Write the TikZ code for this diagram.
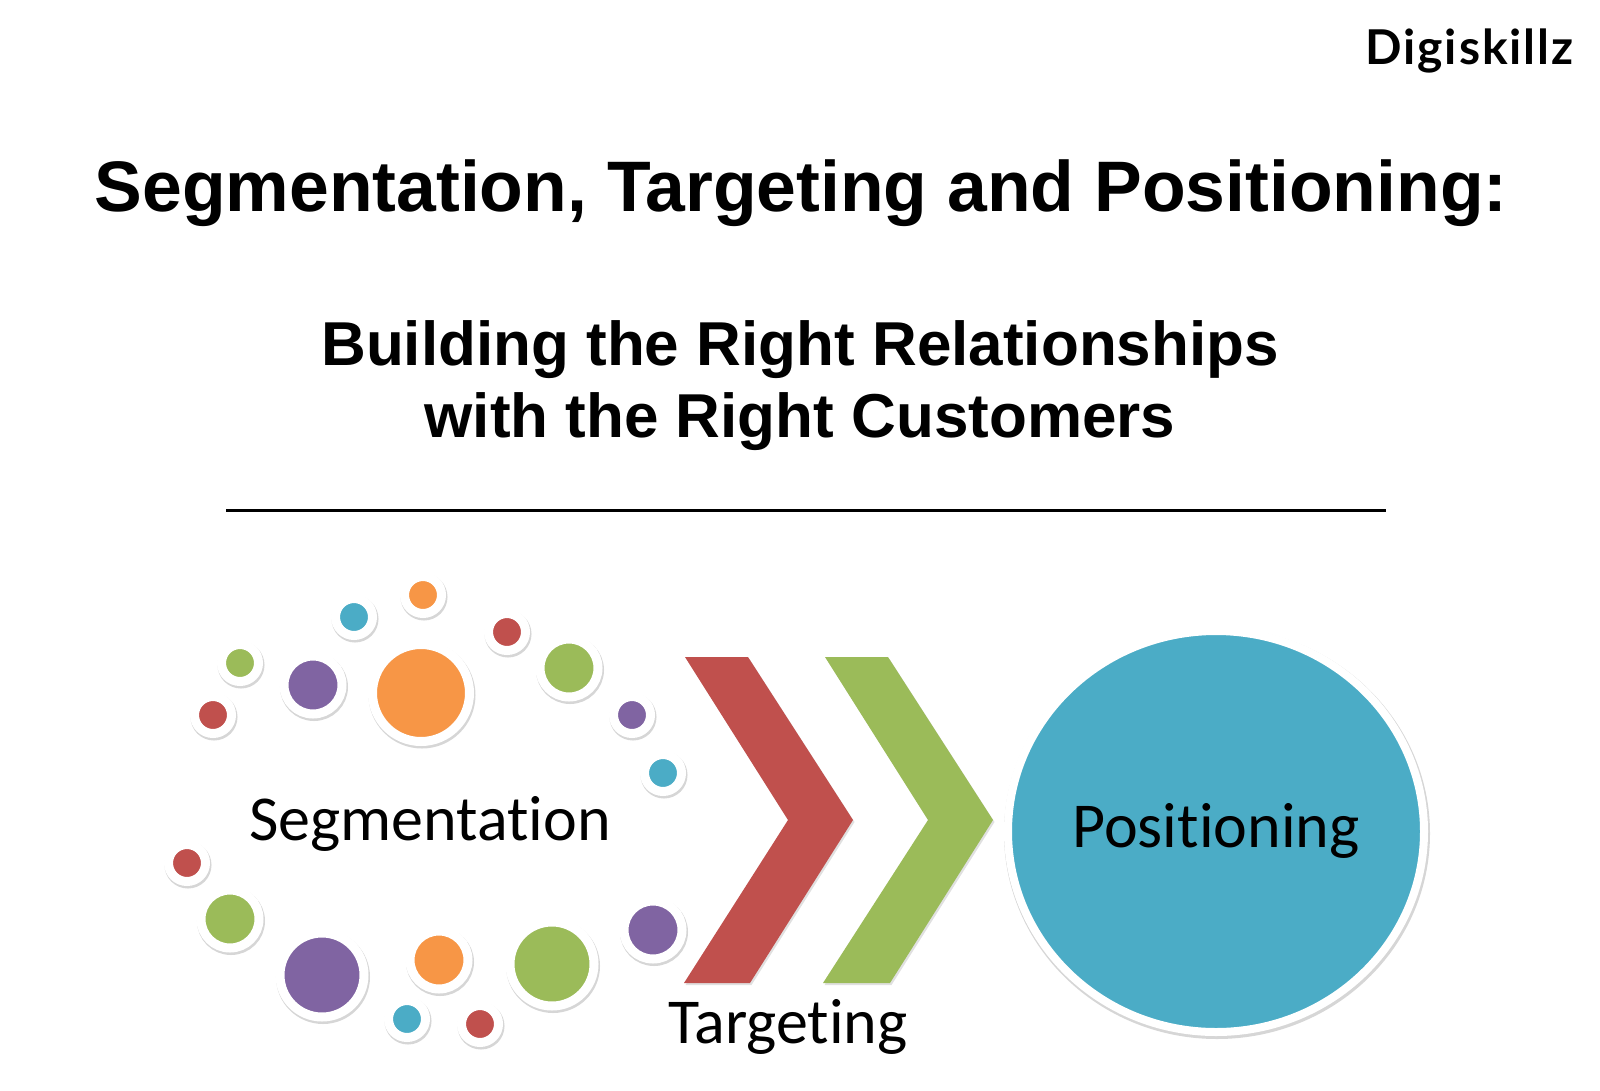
\documentclass[tikz,border=0pt]{standalone}
\usepackage{fontspec}
\setmainfont{Liberation Sans}
\newfontfamily\labelfont{Carlito}[Ligatures=NoCommon]
\newfontfamily\brandfont{Lato}[LetterSpace=4]
\usetikzlibrary{shapes.geometric,positioning}
\definecolor{stpred}{HTML}{C0504D}
\definecolor{stpgreen}{HTML}{9BBB59}
\definecolor{stppurple}{HTML}{8064A2}
\definecolor{stpblue}{HTML}{4BACC6}
\definecolor{stporange}{HTML}{F79646}
\tikzset{
  softshadow/.style={preaction={draw=black,draw opacity=0.16,line width=10pt,
                     transform canvas={xshift=1pt,yshift=-2pt}}},
  dot/.style={circle,inner sep=0pt,fill=#1,draw=white,line width=9pt,softshadow},
  small/.style={minimum size=37pt},
  medium/.style={minimum size=58pt},
  large/.style={minimum size=84pt},
  huge/.style={minimum size=97pt},
  chevron/.style={fill=#1,preaction={fill=black,fill opacity=0.12,
                  transform canvas={xshift=1.5pt,yshift=-2pt}}},
  disc/.style={ellipse,inner sep=0pt,fill=stpblue,draw=white,line width=8pt,
               minimum width=416pt,minimum height=401pt,softshadow},
  headline/.style={font=\bfseries\fontsize{71.5}{86}\selectfont,anchor=base},
  subline/.style={font=\bfseries\fontsize{62}{72}\selectfont,anchor=base},
  steplabel/.style={font=\labelfont\fontsize{64}{76}\selectfont,anchor=base},
}
\begin{document}
\begin{tikzpicture}[x=1pt,y=-1pt]
  \fill[white] (0,0) rectangle (1600,1090);
  \useasboundingbox (0,0) rectangle (1600,1090);
  % --- heading ---
  \node[font=\brandfont\bfseries\fontsize{48}{58}\selectfont,anchor=base east] (brand) at (1577,64) {Digiskillz};
  \node[headline] (title) at (801,211) {Segmentation, Targeting and Positioning:};
  \node[subline] (sub1) at (800,365) {Building the Right Relationships};
  \node[subline] (sub2) at (800,437) {with the Right Customers};
  \draw[line width=3pt] (226,510) -- (1386,510);
  % --- segmentation dots, upper arc ---
  \node[dot=stpred,small]      (red1)    at (213,715) {};
  \node[dot=stpgreen,small]    (green1)  at (240,663) {};
  \node[dot=stppurple,medium]  (purple1) at (313,685) {};
  \node[dot=stpblue,small]     (blue1)   at (354,617) {};
  \node[dot=stporange,small]   (orange1) at (423,595) {};
  \node[dot=stporange,huge]    (orange2) at (421,693) {};
  \node[dot=stpred,small]      (red2)    at (507,632) {};
  \node[dot=stpgreen,medium]   (green2)  at (569,668) {};
  \node[dot=stppurple,small]   (purple2) at (632,715) {};
  \node[dot=stpblue,small]     (blue2)   at (663,773) {};
  % --- segmentation dots, lower arc ---
  \node[dot=stpred,small]      (red3)    at (187,863) {};
  \node[dot=stpgreen,medium]   (green3)  at (230,919) {};
  \node[dot=stppurple,large]   (purple3) at (322,975) {};
  \node[dot=stpblue,small]     (blue3)   at (407,1019) {};
  \node[dot=stporange,medium]  (orange3) at (439,960) {};
  \node[dot=stpred,small]      (red4)    at (480,1024) {};
  \node[dot=stpgreen,large]    (green4)  at (552,964) {};
  \node[dot=stppurple,medium]  (purple4) at (653,930) {};
  \node[steplabel] (seg) at (430,840) {Segmentation};
  % --- targeting chevrons ---
  \fill[chevron=stpred]   (685,657) -- (748,657) -- (853,820) -- (750,983) -- (684,983) -- (788,820) -- cycle;
  \fill[chevron=stpgreen] (825,657) -- (888,657) -- (993,820) -- (890,983) -- (823,983) -- (928,820) -- cycle;
  \node[steplabel] (tgt) at (788,1043) {Targeting};
  % --- positioning ---
  \node[disc] (pos) at (1216,831.5) {};
  \node[steplabel] (poslabel) at (1216,847) {Positioning};
\end{tikzpicture}
\end{document}
